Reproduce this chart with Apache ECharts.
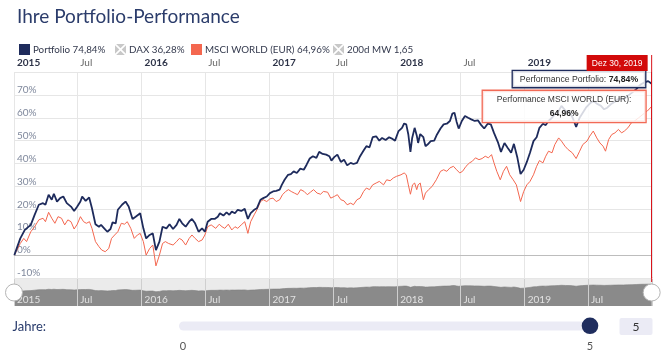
<!DOCTYPE html>
<html>
<head>
<meta charset="utf-8">
<script src="https://cdn.jsdelivr.net/npm/echarts@6/dist/echarts.min.js"></script>
<style>
html,body{margin:0;padding:0;background:#fff;}
#main{width:661px;height:353px;}
</style>
</head>
<body>
<div id="main"></div>
<script>
// ---------- DATA ----------
const portfolio = [
['2015-01-02',0],['2015-01-19',7.3],['2015-02-01',11.0],['2015-02-18',13.2],['2015-03-01',17.6],['2015-03-13',22.0],
['2015-03-25',22.7],['2015-04-01',22.0],['2015-04-10',26.4],['2015-04-19',24.2],['2015-04-25',26.8],['2015-05-04',23.4],
['2015-05-13',24.9],['2015-05-22',25.6],['2015-06-01',22.7],['2015-06-13',21.2],['2015-06-22',19.3],['2015-07-01',21.2],
['2015-07-10',23.4],['2015-07-15',25.6],['2015-07-25',23.7],['2015-08-04',25.2],['2015-08-12',20.5],['2015-08-22',13.5],
['2015-09-01',12.4],['2015-09-07',13.2],['2015-09-16',11.7],['2015-09-25',10.2],['2015-10-04',11.4],['2015-10-10',14.3],
['2015-10-19',13.9],['2015-10-25',19.8],['2015-11-06',22.0],['2015-11-16',23.4],['2015-11-25',21.2],['2015-12-06',15.8],
['2015-12-15',16.8],['2015-12-28',18.3],['2016-01-06',11.7],['2016-01-14',7.3],['2016-01-24',8.8],['2016-02-02',9.5],
['2016-02-11',2.2],['2016-02-21',5.9],['2016-03-01',12.4],['2016-03-12',11.7],['2016-03-21',13.5],['2016-03-31',11.4],
['2016-04-10',13.2],['2016-04-18',15.8],['2016-04-26',13.9],['2016-05-06',12.4],['2016-05-16',14.6],['2016-05-24',15.8],
['2016-06-02',13.9],['2016-06-12',10.2],['2016-06-22',11.7],['2016-06-30',10.2],['2016-07-08',14.6],['2016-07-18',15.8],
['2016-07-28',15.8],['2016-08-06',16.8],['2016-08-12',18.3],['2016-08-22',17.3],['2016-08-31',18.7],['2016-09-08',17.6],
['2016-09-15',19.0],['2016-09-24',18.3],['2016-10-02',19.8],['2016-10-12',19.3],['2016-10-22',20.2],['2016-10-31',15.8],
['2016-11-08',18.3],['2016-11-18',19.8],['2016-11-26',20.5],['2016-12-06',24.2],['2016-12-14',24.9],['2016-12-24',25.6],
['2017-01-02',27.1],['2017-01-11',27.8],['2017-01-20',28.1],['2017-01-30',28.6],['2017-02-05',30.7],['2017-02-13',32.9],
['2017-02-23',35.1],['2017-03-03',35.4],['2017-03-11',36.6],['2017-03-20',35.9],['2017-03-30',37.8],['2017-04-09',37.3],
['2017-04-17',39.5],['2017-04-26',42.2],['2017-05-05',43.2],['2017-05-15',42.5],['2017-05-23',45.1],['2017-06-02',44.2],
['2017-06-12',43.9],['2017-06-21',43.2],['2017-06-27',41.3],['2017-07-05',42.8],['2017-07-14',43.9],['2017-07-24',40.7],
['2017-08-02',41.7],['2017-08-11',39.2],['2017-08-21',40.3],['2017-08-29',39.8],['2017-09-08',40.3],['2017-09-17',43.2],
['2017-09-27',45.7],['2017-10-05',47.6],['2017-10-14',47.1],['2017-10-23',51.5],['2017-11-02',51.9],['2017-11-11',50.0],
['2017-11-19',51.2],['2017-11-29',50.3],['2017-12-09',51.5],['2017-12-17',50.9],['2017-12-26',50.0],['2018-01-05',54.2],
['2018-01-15',55.6],['2018-01-21',57.5],['2018-01-27',57.1],['2018-02-02',52.7],['2018-02-08',45.1],['2018-02-13',51.2],
['2018-02-20',55.6],['2018-02-26',52.3],['2018-03-02',49.0],['2018-03-08',52.9],['2018-03-17',51.5],['2018-03-23',47.6],
['2018-03-29',48.3],['2018-04-07',49.8],['2018-04-17',50.0],['2018-04-25',52.7],['2018-05-05',55.3],['2018-05-14',57.1],
['2018-05-23',57.4],['2018-06-01',58.6],['2018-06-08',61.8],['2018-06-14',62.2],['2018-06-20',58.3],['2018-06-26',55.3],
['2018-07-05',58.6],['2018-07-14',60.8],['2018-07-23',60.0],['2018-08-01',59.3],['2018-08-11',58.6],['2018-08-20',58.9],
['2018-08-29',56.9],['2018-09-07',55.3],['2018-09-17',57.4],['2018-09-26',57.1],['2018-10-05',53.4],['2018-10-17',49.0],
['2018-10-25',45.1],['2018-11-04',49.0],['2018-11-13',46.9],['2018-11-23',44.7],['2018-12-01',48.6],['2018-12-11',42.5],
['2018-12-20',35.4],['2018-12-29',37.3],['2019-01-07',40.7],['2019-01-16',44.7],['2019-01-26',49.8],['2019-02-04',51.5],
['2019-02-12',55.6],['2019-02-22',57.4],['2019-03-02',56.8],['2019-03-10',58.6],['2019-03-20',60.0],['2019-03-28',61.5],
['2019-04-08',63.0],['2019-04-16',65.2],['2019-04-28',63.0],['2019-05-10',62.2],['2019-05-18',60.0],['2019-05-28',56.0],
['2019-06-07',60.0],['2019-06-16',62.2],['2019-06-25',64.4],['2019-07-06',66.2],['2019-07-16',67.3],['2019-07-26',66.2],
['2019-08-07',65.2],['2019-08-16',63.7],['2019-08-25',64.4],['2019-09-04',65.9],['2019-09-16',67.0],['2019-09-28',68.5],
['2019-10-10',68.0],['2019-10-22',69.5],['2019-11-04',71.0],['2019-11-16',72.5],['2019-11-28',74.5],['2019-12-10',75.5],
['2019-12-20',76.0],['2019-12-30',74.84]
];
const msci = [
['2015-01-02',0],['2015-01-19',5.1],['2015-01-29',7.3],['2015-02-06',5.9],['2015-02-18',10.2],['2015-03-01',12.4],
['2015-03-13',15.4],['2015-03-25',16.1],['2015-04-01',14.6],['2015-04-10',18.7],['2015-04-19',16.1],['2015-04-28',13.9],
['2015-05-07',16.8],['2015-05-17',16.1],['2015-05-26',13.2],['2015-06-04',15.4],['2015-06-13',14.6],['2015-06-22',11.4],
['2015-07-01',13.5],['2015-07-10',16.8],['2015-07-19',14.6],['2015-07-27',13.9],['2015-08-05',14.6],['2015-08-12',11.7],
['2015-08-22',5.9],['2015-09-01',3.7],['2015-09-09',2.2],['2015-09-19',1.5],['2015-09-29',2.9],['2015-10-07',7.3],
['2015-10-16',8.8],['2015-10-25',10.2],['2015-11-04',13.9],['2015-11-13',13.5],['2015-11-21',14.6],['2015-12-01',11.7],
['2015-12-11',7.3],['2015-12-20',8.8],['2015-12-28',9.5],['2016-01-06',5.9],['2016-01-14',0],['2016-01-24',2.9],
['2016-02-02',4.4],['2016-02-11',-4.7],['2016-02-21',0],['2016-03-01',5.1],['2016-03-09',5.9],['2016-03-18',5.1],
['2016-03-31',4.4],['2016-04-10',5.9],['2016-04-18',7.3],['2016-04-26',6.6],['2016-05-06',4.4],['2016-05-16',7.3],
['2016-05-24',8.8],['2016-06-02',7.3],['2016-06-12',5.9],['2016-06-22',6.6],['2016-06-30',8.8],['2016-07-08',12.4],
['2016-07-18',13.2],['2016-07-31',11.7],['2016-08-10',13.5],['2016-08-18',12.4],['2016-08-26',11.7],['2016-09-05',13.5],
['2016-09-15',11.0],['2016-09-24',12.4],['2016-10-02',11.7],['2016-10-12',13.2],['2016-10-22',14.6],['2016-10-31',9.5],
['2016-11-08',14.6],['2016-11-18',17.6],['2016-11-26',19.8],['2016-12-06',23.4],['2016-12-14',24.2],['2016-12-24',23.4],
['2017-01-02',24.6],['2017-01-11',24.9],['2017-01-20',23.4],['2017-01-30',24.2],['2017-02-07',26.4],['2017-02-16',27.8],
['2017-02-24',28.6],['2017-03-04',27.8],['2017-03-13',27.1],['2017-03-22',26.4],['2017-03-31',28.6],['2017-04-10',27.8],
['2017-04-19',26.4],['2017-04-28',27.5],['2017-05-07',28.6],['2017-05-17',27.1],['2017-05-27',26.6],['2017-06-04',27.8],
['2017-06-16',27.5],['2017-06-25',24.9],['2017-07-05',25.6],['2017-07-14',26.4],['2017-07-24',24.2],['2017-08-02',23.7],
['2017-08-11',22.0],['2017-08-21',22.7],['2017-08-29',22.0],['2017-09-08',24.2],['2017-09-17',24.9],['2017-09-27',27.8],
['2017-10-05',29.3],['2017-10-14',28.6],['2017-10-23',30.7],['2017-11-02',31.5],['2017-11-11',32.2],['2017-11-23',30.7],
['2017-12-02',32.9],['2017-12-12',32.5],['2017-12-21',33.7],['2017-12-30',34.4],['2018-01-12',35.1],['2018-01-21',35.9],
['2018-01-27',35.1],['2018-02-02',30.7],['2018-02-08',26.6],['2018-02-14',30.7],['2018-02-20',31.5],['2018-02-26',28.6],
['2018-03-02',30.7],['2018-03-08',31.5],['2018-03-17',24.2],['2018-03-23',27.1],['2018-04-01',28.6],['2018-04-11',30.0],
['2018-04-23',32.9],['2018-05-05',36.6],['2018-05-14',37.3],['2018-05-23',36.6],['2018-06-01',38.1],['2018-06-11',38.8],
['2018-06-20',37.3],['2018-06-29',35.9],['2018-07-07',36.6],['2018-07-17',38.8],['2018-07-27',40.3],['2018-08-04',41.0],
['2018-08-13',42.5],['2018-08-23',41.7],['2018-09-01',42.2],['2018-09-10',43.2],['2018-09-19',42.5],['2018-09-28',43.9],
['2018-10-05',40.3],['2018-10-13',36.6],['2018-10-23',32.9],['2018-11-01',36.6],['2018-11-10',38.8],['2018-11-19',35.1],
['2018-11-29',32.9],['2018-12-08',30.7],['2018-12-20',23.4],['2018-12-29',27.8],['2019-01-07',30.7],['2019-01-16',32.2],
['2019-01-26',35.1],['2019-02-04',38.8],['2019-02-12',41.3],['2019-02-22',40.3],['2019-03-02',43.2],['2019-03-10',45.4],
['2019-03-20',44.7],['2019-03-28',48.3],['2019-04-08',51.2],['2019-04-16',49.8],['2019-04-26',47.6],['2019-05-05',46.1],
['2019-05-17',44.7],['2019-05-28',42.2],['2019-06-07',45.4],['2019-06-16',48.3],['2019-06-28',49.8],['2019-07-06',52.0],
['2019-07-16',54.2],['2019-07-26',51.2],['2019-08-04',49.0],['2019-08-13',47.6],['2019-08-20',45.4],['2019-08-29',50.5],
['2019-09-07',52.7],['2019-09-16',53.4],['2019-09-26',54.9],['2019-10-05',53.4],['2019-10-13',54.2],['2019-10-23',55.6],
['2019-11-02',57.8],['2019-11-11',58.6],['2019-11-23',60.0],['2019-12-05',61.5],['2019-12-18',63.0],['2019-12-30',64.96]
];
const legendNames  = ['Portfolio', 'DAX', 'MSCI WORLD (EUR)', '200d MW'];
const legendValues = ['74,84%', '36,28%', '64,96%', '1,65'];
const yRange = [-10, 80];
const yStep = 10;
const xRange = ['2015-01-01', '2019-12-31'];
const crosshairLabel = 'Dez 30, 2019';
const jahreRange = [0, 5];
const jahreValue = 5;

// ---------- STYLE ----------
const NAVY = '#1e2b5c';
const CORAL = '#f4674f';
const GREY_X = '#c8c8c8';
const FONT = 'Lato';
const TIPFONT = '"Liberation Sans", Arial, sans-serif';
const xIcon = 'path://M1.13,0L9.87,0L5.5,4.37Z M11,1.13L11,9.87L6.63,5.5Z M9.87,11L1.13,11L5.5,6.63Z M0,9.87L0,1.13L4.37,5.5Z';
const fmt = v => v.toFixed(2).replace('.', ',') + '%';

const lastP = portfolio[portfolio.length - 1];
const lastM = msci[msci.length - 1];

const legendLefts = [14, 110, 186, 328];
const legendIcons = ['rect', xIcon, 'rect', xIcon];
const legends = legendNames.map((n, i) => ({
  data: [{name: n, icon: legendIcons[i]}],
  left: legendLefts[i], top: 39,
  itemWidth: 11, itemHeight: 11,
  selectedMode: false,
  formatter: name => name + ' ' + legendValues[i],
  textStyle: {fontFamily: FONT, fontSize: 9.8, color: '#343a4e', padding: [0, 0, 0, -2]}
}));

const chart = echarts.init(document.getElementById('main'), null, {renderer: 'canvas'});

const option = {
  animation: false,
  backgroundColor: '#ffffff',
  textStyle: {fontFamily: FONT},
  title: {
    text: 'Ihre Portfolio-Performance', left: 12, top: 2,
    textStyle: {fontFamily: FONT, fontSize: 19, fontWeight: 'normal', color: '#2b3c6b'}
  },
  legend: legends,
  grid: [
    {left: 14, right: 9, top: 72, bottom: 75},
    {left: 14, right: 9, top: 279, height: 27, show: true, backgroundColor: '#ebebeb', borderWidth: 0}
  ],
  xAxis: [
    {
      type: 'time', gridIndex: 0, position: 'top', min: xRange[0], max: xRange[1], splitNumber: 10,
      axisLine: {show: true, lineStyle: {color: '#d8dbe3', width: 1}},
      axisTick: {show: false},
      splitLine: {show: true, lineStyle: {color: '#e6e6e6'}},
      axisLabel: {
        margin: 4, align: 'left', padding: [0, 0, 0, 3],
        formatter: {year: '{y|{yyyy}}', month: '{m|{MMM}}'},
        rich: {
          y: {fontWeight: 'bold', color: '#2d3348', fontSize: 10, fontFamily: FONT},
          m: {color: '#666666', fontSize: 10, fontFamily: FONT}
        }
      }
    },
    {
      type: 'time', gridIndex: 1, position: 'bottom', min: xRange[0], max: xRange[1], splitNumber: 10,
      z: 5,
      axisLine: {show: false}, axisTick: {show: false},
      splitLine: {show: true, lineStyle: {color: '#cfcfcf'}},
      axisLabel: {
        inside: true, margin: 1, align: 'left', padding: [0, 0, 0, 3],
        color: '#e2e2e2', fontSize: 10, fontFamily: FONT,
        formatter: {year: '{yyyy}', month: '{MMM}'}
      }
    }
  ],
  yAxis: [
    {
      type: 'value', gridIndex: 0, min: yRange[0], max: yRange[1], interval: yStep,
      axisLine: {show: false}, axisTick: {show: false},
      splitLine: {lineStyle: {color: '#e6e6e6'}},
      axisLabel: {
        inside: true, margin: 3, formatter: '{value}%', verticalAlign: 'bottom',
        showMaxLabel: false, color: '#7f889c', fontSize: 10, fontFamily: FONT
      }
    },
    {type: 'value', gridIndex: 1, min: -136, max: 126, show: false, splitLine: {show: false}}
  ],
  series: [
    {
      name: 'MSCI WORLD (EUR)', type: 'line', xAxisIndex: 0, yAxisIndex: 0, data: msci,
      showSymbol: false, silent: true, z: 2,
      lineStyle: {color: CORAL, width: 1}, itemStyle: {color: CORAL},
      markLine: {
        silent: true, symbol: ['none', 'none'], label: {show: false}, z: 1,
        lineStyle: {color: '#bdbdbd', width: 1, type: 'solid'},
        data: [{yAxis: 0}]
      },
      markPoint: {
        silent: true, z: 10,
        data: [{
          coord: lastM, symbol: 'circle', symbolSize: 1, itemStyle: {color: 'rgba(0,0,0,0)'},
          label: {
            show: true, position: 'left', distance: 4.5, offset: [-82.5, 0],
            formatter: 'Performance MSCI WORLD (EUR):\n{v|' + fmt(lastM[1]) + '}',
            fontFamily: TIPFONT, fontSize: 8.5, color: '#333', align: 'center', lineHeight: 14,
            backgroundColor: 'rgba(255,255,255,0.82)', borderColor: '#f26a56', borderWidth: 1.3,
            padding: [2, 14, 1, 14],
            rich: {v: {fontFamily: TIPFONT, fontSize: 8.5, fontWeight: 'bold', color: '#222', lineHeight: 14}}
          }
        }]
      }
    },
    {
      name: 'Portfolio', type: 'line', xAxisIndex: 0, yAxisIndex: 0, data: portfolio,
      showSymbol: false, silent: true, z: 3,
      lineStyle: {color: NAVY, width: 1.8}, itemStyle: {color: NAVY},
      markLine: {
        silent: true, symbol: ['none', 'none'], label: {show: false}, z: 6,
        lineStyle: {color: '#d9141b', width: 1, type: 'solid'},
        data: [{xAxis: lastP[0]}]
      },
      markPoint: {
        silent: true, z: 11,
        data: [{
          coord: lastP, symbol: 'circle', symbolSize: 1, itemStyle: {color: 'rgba(0,0,0,0)'},
          label: {
            show: true, position: 'left', distance: 6, offset: [0, -4.7],
            formatter: 'Performance Portfolio: {v|' + fmt(lastP[1]) + '}',
            fontFamily: TIPFONT, fontSize: 8.7, color: '#333', lineHeight: 10,
            backgroundColor: 'rgba(255,255,255,0.82)', borderColor: NAVY, borderWidth: 1.3,
            padding: [3, 7, 3, 7],
            rich: {v: {fontFamily: TIPFONT, fontSize: 8.7, fontWeight: 'bold', color: '#222', lineHeight: 10}}
          }
        }]
      }
    },
    {name: 'DAX', type: 'line', data: [], itemStyle: {color: GREY_X}},
    {name: '200d MW', type: 'line', data: [], itemStyle: {color: GREY_X}},
    {
      name: 'navigator', type: 'line', xAxisIndex: 1, yAxisIndex: 1, data: portfolio,
      showSymbol: false, silent: true, z: 2,
      lineStyle: {color: '#7d7d7d', width: 0.6},
      areaStyle: {color: '#8a8a8a', opacity: 1, origin: 'start'}
    }
  ]
};
chart.setOption(option);

// UI overlays (crosshair date box, navigator handles, year slider)
const px = chart.convertToPixel({xAxisIndex: 0}, lastP[0]);
const valToX = v => 183 + (590 - 183) * (v - jahreRange[0]) / (jahreRange[1] - jahreRange[0]);
chart.setOption({
  graphic: [
    {type: 'rect', z: 20, shape: {x: px - 65, y: 55, width: 61, height: 16}, style: {fill: '#d20a0a'}},
    {type: 'text', z: 21, x: px - 34.5, y: 63.5, style: {text: crosshairLabel, fill: '#ffffff', font: '8.5px "Liberation Sans", Arial', align: 'center', verticalAlign: 'middle'}},
    {type: 'line', z: 19, shape: {x1: px, y1: 55, x2: px, y2: 72}, style: {stroke: '#d9141b', lineWidth: 1}},
    {type: 'line', z: 19, shape: {x1: px, y1: 277, x2: px, y2: 282}, style: {stroke: '#d9141b', lineWidth: 1}},
    {type: 'circle', z: 20, shape: {cx: 14, cy: 292.5, r: 8.5}, style: {fill: '#ffffff', stroke: '#b5b5b5', lineWidth: 1}},
    {type: 'circle', z: 20, shape: {cx: px, cy: 292.5, r: 8.5}, style: {fill: '#ffffff', stroke: '#b5b5b5', lineWidth: 1}},
    {type: 'text', x: 12.5, y: 326.5, style: {text: 'Jahre:', fill: '#273a6b', font: '13px Lato', align: 'left', verticalAlign: 'middle'}},
    {type: 'rect', shape: {x: 179, y: 321.5, width: 418.5, height: 9, r: 4.5}, style: {fill: '#ebebf5'}},
    {type: 'circle', z: 5, shape: {cx: valToX(jahreValue), cy: 325.8, r: 8.3}, style: {fill: '#1f2d5e'}},
    {type: 'text', x: valToX(jahreRange[0]), y: 346, style: {text: String(jahreRange[0]), fill: '#555', font: '11px Lato', align: 'center', verticalAlign: 'middle'}},
    {type: 'text', x: valToX(jahreRange[1]), y: 346, style: {text: String(jahreRange[1]), fill: '#555', font: '11px Lato', align: 'center', verticalAlign: 'middle'}},
    {type: 'rect', shape: {x: 619.5, y: 318, width: 33, height: 17, r: 2}, style: {fill: '#ebebf5'}},
    {type: 'text', x: 636, y: 326.8, style: {text: String(jahreValue), fill: '#333', font: '12px Lato', align: 'center', verticalAlign: 'middle'}}
  ]
});
</script>
</body>
</html>
